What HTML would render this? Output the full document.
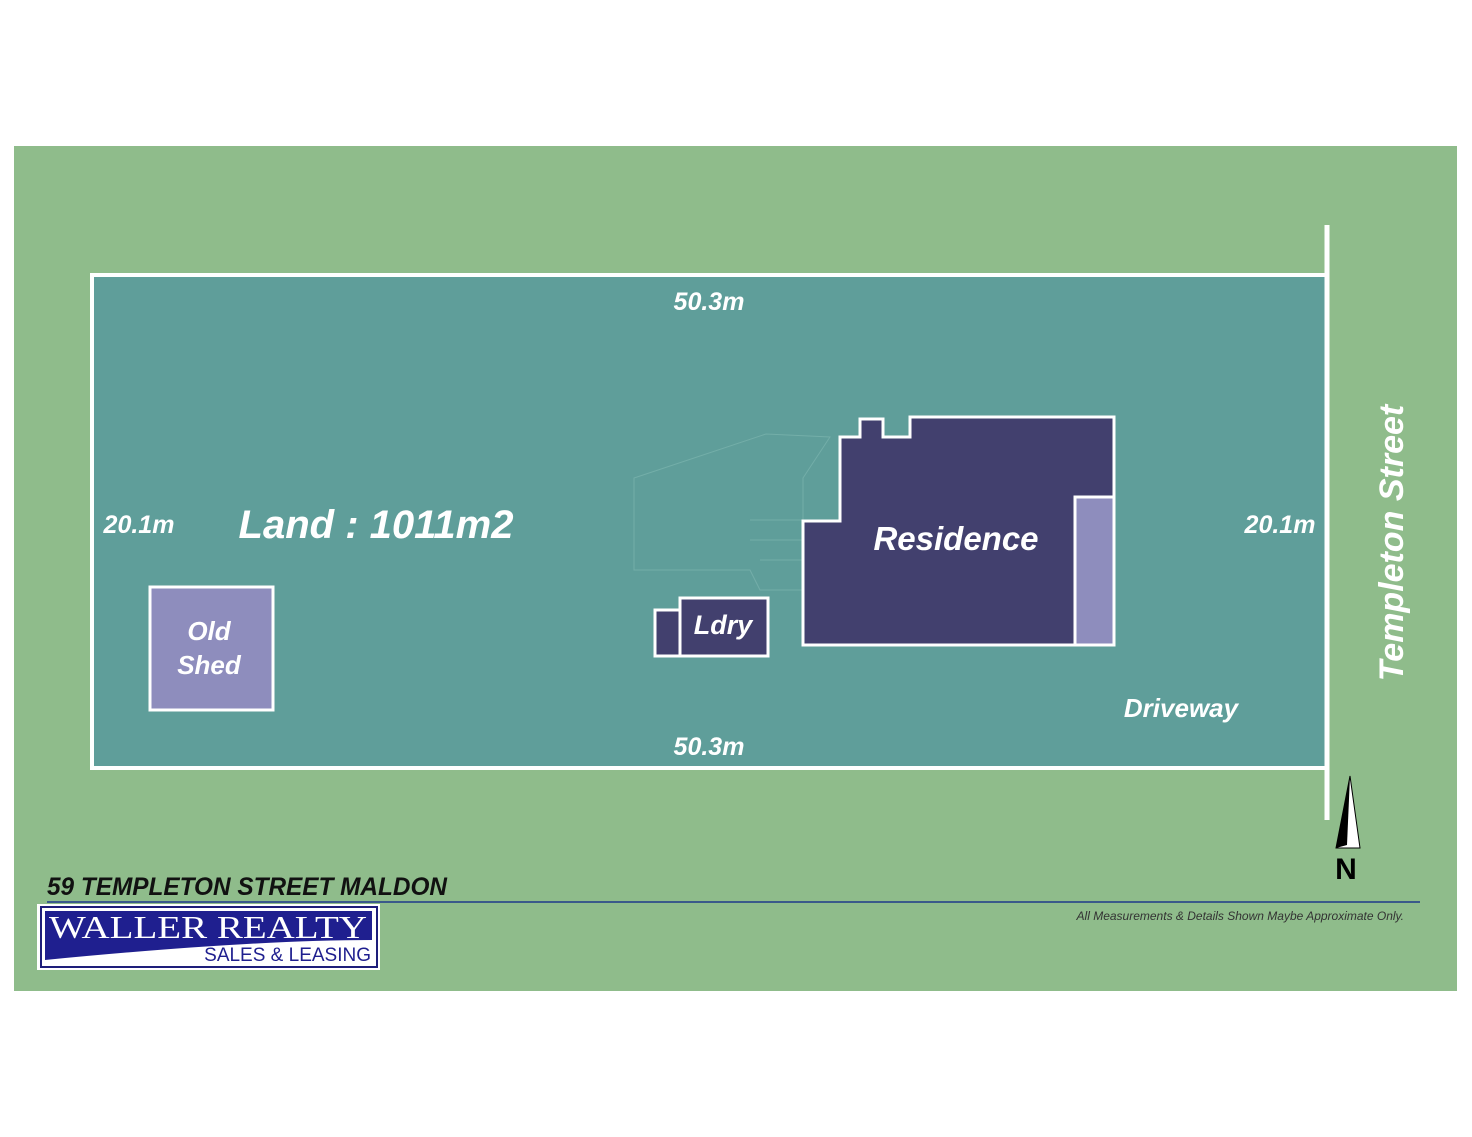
<!DOCTYPE html>
<html><head><meta charset="utf-8"><style>
body{margin:0;background:#fff;width:1472px;height:1137px;overflow:hidden}
svg{display:block}
text{font-family:"Liberation Sans",sans-serif}
.i{font-style:italic}
</style></head><body>
<svg width="1472" height="1137" viewBox="0 0 1472 1137">
<rect x="14" y="146" width="1443" height="845" fill="#8fbc8b"/>
<rect x="92" y="275" width="1235" height="493" fill="#5f9e9a" stroke="#fff" stroke-width="4"/>
<line x1="1327" y1="225" x2="1327" y2="820" stroke="#fff" stroke-width="5"/>
<g fill="none" stroke="#8cc0bb" stroke-width="1" opacity="0.45">
<path d="M634 478 L766 434 L830 437 L803 478 L803 590 L760 590 L750 570 L634 570 Z"/>
<path d="M750 520 L803 520 M750 540 L803 540 M760 560 L803 560"/>
</g>
<path d="M803 521 L840 521 L840 437 L860 437 L860 419 L883 419 L883 437 L910 437 L910 417 L1114 417 L1114 645 L803 645 Z" fill="#42406e" stroke="#fff" stroke-width="3"/>
<rect x="1075" y="497" width="39" height="148" fill="#8e8dbd" stroke="#fff" stroke-width="3"/>
<rect x="655" y="610" width="25" height="46" fill="#42406e" stroke="#fff" stroke-width="3"/>
<rect x="680" y="598" width="88" height="58" fill="#42406e" stroke="#fff" stroke-width="3"/>
<rect x="150" y="587" width="123" height="123" fill="#8e8dbd" stroke="#fff" stroke-width="3"/>
<g fill="#fff" font-weight="bold" class="i">
<text x="709" y="310" font-size="25" text-anchor="middle">50.3m</text>
<text x="709" y="755" font-size="25" text-anchor="middle">50.3m</text>
<text x="139" y="533" font-size="25" text-anchor="middle">20.1m</text>
<text x="1280" y="533" font-size="25" text-anchor="middle">20.1m</text>
<text x="376" y="538" font-size="40" text-anchor="middle">Land : 1011m2</text>
<text x="956" y="550" font-size="33" text-anchor="middle">Residence</text>
<text x="723" y="634" font-size="27" text-anchor="middle">Ldry</text>
<text x="209" y="640" font-size="26" text-anchor="middle">Old</text>
<text x="209" y="674" font-size="26" text-anchor="middle">Shed</text>
<text x="1181" y="717" font-size="26" text-anchor="middle">Driveway</text>
<text transform="translate(1403,543) rotate(-90)" font-size="34" text-anchor="middle">Templeton Street</text>
</g>
<polygon points="1350,776 1336,848 1360,848" fill="#fff" stroke="#000" stroke-width="1"/>
<polygon points="1350,776 1336,848 1347,845" fill="#000"/>
<text x="1346" y="879" font-size="30" font-weight="bold" text-anchor="middle" fill="#000">N</text>
<text x="47" y="895" font-size="25" font-weight="bold" fill="#111" class="i" textLength="400" lengthAdjust="spacingAndGlyphs">59 TEMPLETON STREET MALDON</text>
<line x1="47" y1="902" x2="1420" y2="902" stroke="#3a5a8a" stroke-width="2"/>
<text x="1404" y="920" font-size="12" fill="#333" text-anchor="end" class="i">All Measurements &amp; Details Shown Maybe Approximate Only.</text>
<rect x="37" y="904" width="343" height="66" fill="#fff"/>
<rect x="41" y="907" width="336" height="60" fill="none" stroke="#1e1e7a" stroke-width="2"/>
<path d="M45 911 L372 911 L372 940 Q250 940 45 960 Z" fill="#1f1f8f"/>
<text x="208" y="938" style="font-family:'Liberation Serif',serif" font-size="32" fill="#fff" text-anchor="middle" textLength="318" lengthAdjust="spacingAndGlyphs">WALLER REALTY</text>
<text x="371" y="961" font-size="19" fill="#1f1f8f" text-anchor="end">SALES &amp; LEASING</text>
</svg>
</body></html>
